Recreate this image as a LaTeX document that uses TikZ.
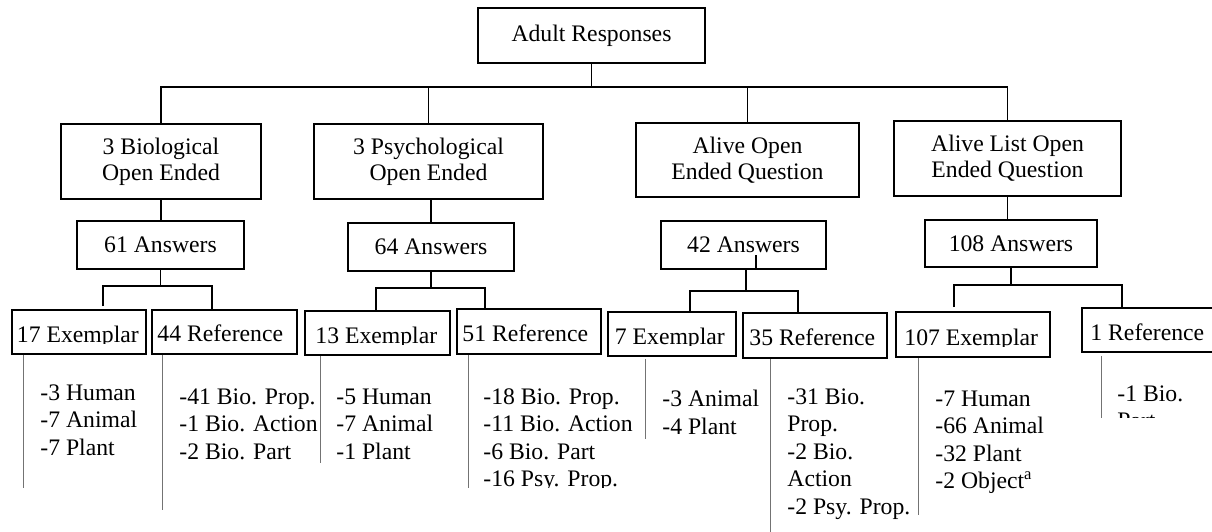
\documentclass[tikz,border=0pt]{standalone}
\usepackage{fontspec}
\setmainfont{Liberation Serif}

% one column list, aligned on its first baseline
\newcommand{\itemlist}[1]{\begin{tabular}[t]{@{}l@{}}#1\end{tabular}}
% text cut off below a given line
\newcommand{\cliptag}[6][tag]{%
  \begin{scope}
    \clip (#3-10,#4-30) rectangle (#3+220,#5);
    \node[#1] (#2) at (#3,#4) {#6};
  \end{scope}}

\begin{document}
\begin{tikzpicture}[
    x=0.5pt, y=-0.5pt,
    font=\fontsize{11.85}{13}\selectfont,
    % boxes and lines
    box/.style={draw, line width=0.9pt, inner sep=0pt, align=center},
    leaf/.style={box, minimum height=22pt},
    link/.style={line width=0.9pt},
    stem/.style={draw=black!55, line width=0.6pt},
    tag/.style={anchor=base west, inner sep=0pt},
    list/.style={tag, font=\fontsize{11.85}{13.75}\selectfont}
  ]
  \useasboundingbox (0,0) rectangle (1212,531);
  \clip (0,0) rectangle (1212,531);

  % top and question boxes
  \node[box, minimum width=113.5pt, minimum height=27.5pt] (adult) at (591.5,35.5) {Adult Responses};
  \node[box, minimum width=100pt, minimum height=37.5pt] (bio) at (161,161.5) {3 Biological\\Open Ended};
  \node[box, minimum width=114.5pt, minimum height=37.5pt] (psy) at (428.5,161.5) {3 Psychological\\Open Ended};
  \node[box, minimum width=111.5pt, minimum height=37pt] (alive) at (747.5,160) {Alive Open\\Ended Question};
  \node[box, minimum width=113.5pt, minimum height=37.5pt] (alist) at (1007.5,158.5) {Alive List Open\\Ended Question};

  % answer boxes
  \node[box, minimum width=83.5pt, minimum height=24pt] (ans61) at (160.5,245) {61 Answers};
  \node[box, minimum width=83pt, minimum height=24pt] (ans64) at (431,247) {64 Answers};
  \node[box, minimum width=82.5pt, minimum height=24pt] (ans42) at (743.5,245) {42 Answers};
  \node[box, minimum width=86pt, minimum height=23.5pt] (ans108) at (1011,243.5) {108 Answers};

  % exemplar / reference boxes
  \node[leaf, minimum width=67pt] (ex17) at (79,332) {};
  \node[leaf, minimum width=72.5pt] (ref44) at (224.5,332) {};
  \node[leaf, minimum width=72.5pt] (ex13) at (377.5,333) {};
  \node[leaf, minimum width=72pt, minimum height=22.5pt] (ref51) at (529,331.5) {};
  \node[leaf, minimum width=64pt] (ex7) at (672,334) {};
  \node[leaf, minimum width=72pt, minimum height=22.5pt] (ref35) at (815,335.5) {};
  \node[leaf, minimum width=77pt, minimum height=22.5pt] (ex107) at (973,334.5) {};
  \node[leaf, minimum width=79pt] (ref1) at (1161,330) {};

  \cliptag{t17}{16.6}{342}{343.5}{17 Exemplar}
  \cliptag{t44}{157}{341}{344}{44 Reference}
  \cliptag{t13}{315}{343}{344.5}{13 Exemplar}
  \cliptag{t51}{462}{341}{344}{51 Reference}
  \cliptag{t7}{614.5}{344}{345.5}{7 Exemplar}
  \cliptag{t35}{749}{345.5}{348}{35 Reference}
  \cliptag{t107}{904}{345}{346.5}{107 Exemplar}
  \cliptag{t1}{1090}{340}{343}{1 Reference}

  % first split
  \coordinate (bus) at (0,87);
  \draw[link] (adult) -- (adult.south |- bus);
  \draw[link] (bio) -- (bio.north |- bus) -- (alist.north |- bus) -- (alist);
  \draw[link] (psy) -- (psy.north |- bus);
  \draw[link] (alive) -- (alive.north |- bus);

  \draw[link] (bio.south) -- (bio.south |- ans61.north);
  \draw[link] (ans64.north) -- (ans64.north |- psy.south);
  \draw[link] (alist.south) -- (alist.south |- ans108.north);
  \draw[link] ([xshift=6.25pt]ans42.south) -- ++(0,-15);

  % second split
  \coordinate (j61a) at (103,286);  \coordinate (j61b) at (212,286);
  \coordinate (j64a) at (376,288);  \coordinate (j64b) at (485,288);
  \coordinate (j42a) at (690,291);  \coordinate (j42b) at (798,291);
  \coordinate (j108a) at (954,285); \coordinate (j108b) at (1122,285);

  \draw[link] (ans61.south) -- (ans61.south |- j61a);
  \draw[link, shorten <=1.5pt] (j61a |- ex17.north) -- (j61a) -- (j61b) -- (j61b |- ref44.north);
  \draw[link] (ans64.south) -- (ans64.south |- j64a);
  \draw[link] (j64a |- ex13.north) -- (j64a) -- (j64b) -- (j64b |- ref51.north);
  \draw[link] ([xshift=1.25pt]ans42.south) -- ([xshift=1.25pt]ans42.south |- j42a);
  \draw[link] (j42a |- ex7.north) -- (j42a) -- (j42b) -- (j42b |- ref35.north);
  \draw[link] (ans108.south) -- (ans108.south |- j108a);
  \draw[link, shorten <=2pt] (j108a |- ex107.north) -- (j108a) -- (j108b) -- (j108b |- ref1.north);

  % stems
  \draw[stem] (ex17.south west) ++(12.5,0) -- ++(0,133);
  \draw[stem] (ref44.south west) ++(11,0) -- ++(0,155);
  \draw[stem] (ex13.south west) ++(16,0) -- ++(0,107);
  \draw[stem] (ref51.south west) ++(12,0) -- ++(0,133);
  \draw[stem] (ex7.south west) ++(38,2) -- ++(0,80);
  \draw[stem] (ref35.south west) ++(28,0) -- ++(0,173);
  \draw[stem] (ex107.south west) ++(23,0) -- ++(0,157);
  \draw[stem] (ref1.south west) ++(20,3) -- ++(0,62);

  % counts
  \node[list] (l17) at (40,400) {\itemlist{-3 Human\\-7 Animal\\-7 Plant}};
  \node[list] (l44) at (179,404) {\itemlist{-41 Bio. Prop.\\-1 Bio. Action\\-2 Bio. Part}};
  \node[list] (l13) at (336,404) {\itemlist{-5 Human\\-7 Animal\\-1 Plant}};
  \cliptag[list]{l51}{483}{404}{487}{\itemlist{-18 Bio. Prop.\\-11 Bio. Action\\-6 Bio. Part\\-16 Psy. Prop.}}
  \node[list] (l7) at (662,406.5) {\itemlist{-3 Animal\\-4 Plant}};
  \node[list] (l35) at (787,404) {\itemlist{-31 Bio.\\Prop.\\-2 Bio.\\Action\\-2 Psy. Prop.}};
  \node[list] (l107) at (935,406) {\itemlist{-7 Human\\-66 Animal\\-32 Plant\\-2 Object\textsuperscript{a}}};
  \cliptag[list]{l1}{1117}{401}{417}{\itemlist{-1 Bio.\\Part}}
\end{tikzpicture}
\end{document}
